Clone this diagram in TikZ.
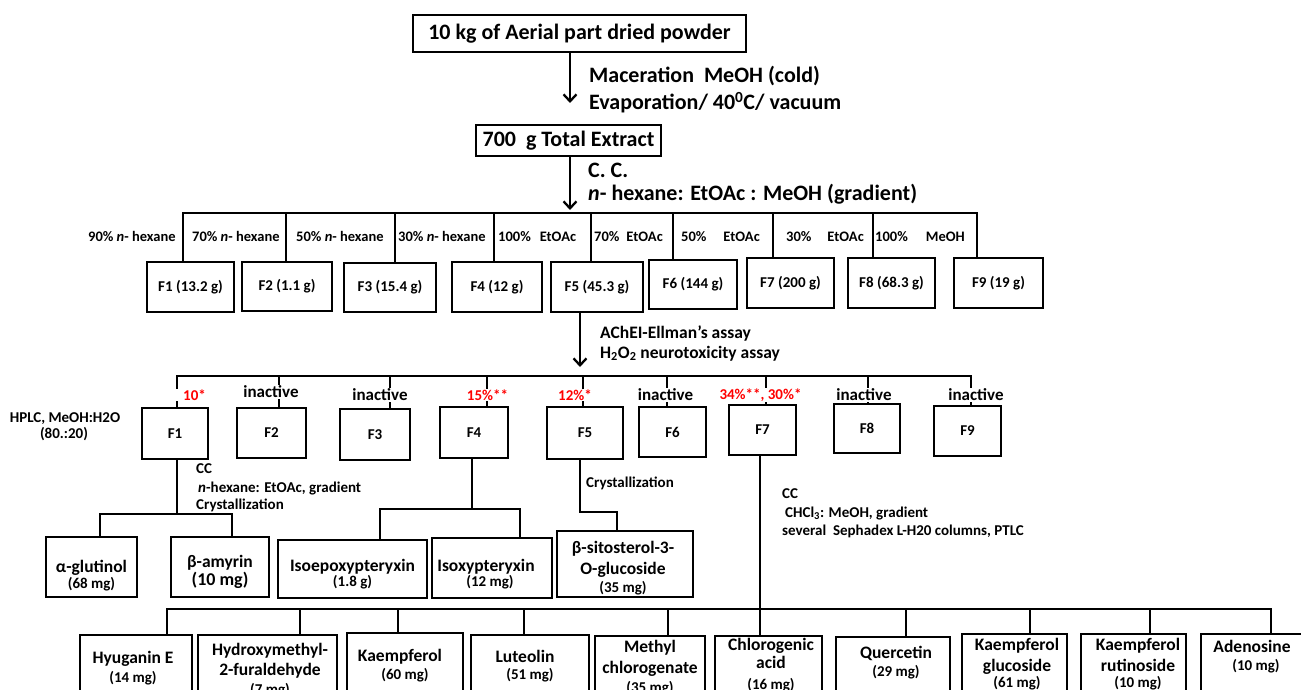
\documentclass[tikz,border=0pt]{standalone}
\usepackage{fontspec}
\setmainfont{Carlito}
\usetikzlibrary{arrows.meta}
\newcommand{\fsz}[1]{\fontsize{#1}{#1}\selectfont}
\newcommand{\ltxt}[4]{\node[anchor=base west,inner sep=0pt,font=\bfseries\fsz{#3}] at (#1,#2) {#4};}
\newcommand{\ctxt}[4]{\node[anchor=base,inner sep=0pt,font=\bfseries\fsz{#3}] at (#1,#2) {#4};}
\begin{document}
\begin{tikzpicture}[x=1pt,y=-1pt,
 ln/.style={line width=2.3pt,line cap=rect,line join=miter},
 bx/.style={draw,line width=2.3pt,inner sep=0pt,align=center},
 arr/.style={line width=2.3pt,-{Straight Barb[length=7pt,width=13pt,line width=2.3pt]}},
 big/.style={font=\bfseries\fsz{22}},
 sml/.style={font=\bfseries\fsz{15}},
 rl/.style={text=red,fill=white,inner sep=1pt,font=\bfseries\fsz{15}},
 il/.style={fill=white,inner sep=1pt,font=\bfseries\fsz{17}},
]
\useasboundingbox (0,0) rectangle (1301,690);
\fill[white] (0,0) rectangle (1301,690);
\clip (0,0) rectangle (1301,690);

% top boxes
\node[bx,big,minimum width=333pt,minimum height=37pt] (B0) at (579.5,33.5) {10 kg of Aerial part dried powder};
\node[bx,big,minimum width=185pt,minimum height=31pt] (B1) at (568.5,140.5) {700\ \ g Total Extract};

\ltxt{589}{83}{22}{Maceration\ \ MeOH (cold)}
\ltxt{589}{110}{22}{Evaporation/ 40\textsuperscript{0}C/ vacuum}
\ltxt{588}{178}{22}{C. C.}
\ltxt{588}{200}{22}{\textit{n}- hexane: EtOAc : MeOH (gradient)}

\coordinate (a1) at (570,103);
\draw[arr] (a1 |- B0.south) -- (a1);
\coordinate (a2) at (570,210);
\draw[arr] (a2 |- B1.south) -- (a2);

% fraction row
\node[bx,sml,minimum width=87pt,minimum height=50pt] (F1) at (190.5,287) {F1 (13.2 g)};
\node[bx,sml,minimum width=90pt,minimum height=49pt] (F2) at (287,286.5) {F2 (1.1 g)};
\node[bx,sml,minimum width=92pt,minimum height=49pt] (F3) at (390,287.5) {F3 (15.4 g)};
\node[bx,sml,minimum width=90pt,minimum height=50pt] (F4) at (497,287) {F4 (12 g)};
\node[bx,sml,minimum width=92pt,minimum height=50pt] (F5) at (597,287) {F5 (45.3 g)};
\node[bx,sml,minimum width=88pt,minimum height=49pt] (F6) at (693,284.5) {F6 (144 g)};
\node[bx,sml,minimum width=87pt,minimum height=50pt] (F7) at (790.5,283) {F7 (200 g)};
\node[bx,sml,minimum width=87pt,minimum height=50pt] (F8) at (891.5,283) {F8 (68.3 g)};
\node[bx,sml,minimum width=89pt,minimum height=50pt] (F9) at (998.5,283) {F9 (19 g)};

\draw[ln] (183,213) -- (977,213);
\foreach \x/\n in {183/F1,286/F2,395/F3,494/F4,591/F5,673/F6,773/F7,873/F8,977/F9}
  \draw[ln] (\x,213) coordinate (tmp) -- (tmp |- \n.north);

\ltxt{88}{241}{14.5}{90\% \textit{n}- hexane}
\ltxt{192}{241}{14.5}{70\% \textit{n}- hexane}
\ltxt{296}{241}{14.5}{50\% \textit{n}- hexane}
\ltxt{398}{241}{14.5}{30\% \textit{n}- hexane}
\ltxt{498}{241}{14.5}{100\%\hspace{9pt}EtOAc}
\ltxt{594}{241}{14.5}{70\%\hspace{7pt}EtOAc}
\ltxt{681}{241}{14.5}{50\%\hspace{17pt}EtOAc}
\ltxt{786}{241}{14.5}{30\%\hspace{16pt}EtOAc}
\ltxt{875}{241}{14.5}{100\%\hspace{18pt}MeOH}

% bioassay arrow
\coordinate (a3) at (580,367);
\draw[arr] (a3 |- F5.south) -- (a3);
\ltxt{600}{338}{17.5}{AChEI-Ellman’s assay}
\ltxt{600}{358}{17.5}{H\textsubscript{2}O\textsubscript{2} neurotoxicity assay}

% second row
\node[bx,sml,minimum width=66pt,minimum height=51pt] (G1) at (175,433.5) {F1};
\node[bx,sml,minimum width=69pt,minimum height=50pt] (G2) at (271.5,433) {F2};
\node[bx,sml,minimum width=70pt,minimum height=51pt] (G3) at (375,434.5) {F3};
\node[bx,sml,minimum width=68pt,minimum height=51pt] (G4) at (474,432.5) {F4};
\node[bx,sml,minimum width=76pt,minimum height=52pt] (G5) at (585,433) {F5};
\node[bx,sml,minimum width=67pt,minimum height=50pt] (G6) at (672.5,432) {F6};
\node[bx,sml,minimum width=67pt,minimum height=50pt] (G7) at (762.5,430) {F7};
\node[bx,sml,minimum width=66pt,minimum height=49pt] (G8) at (867,428.5) {F8};
\node[bx,sml,minimum width=67pt,minimum height=50pt] (G9) at (967.5,431) {F9};

\draw[ln] (177,376) -- (971,376);
\foreach \x/\n in {177/G1,279/G2,390/G3,487/G4,583/G5,667/G6,766/G7,868/G8,971/G9}
  \draw[ln] (\x,376) coordinate (tmp) -- (tmp |- \n.north);

\node[rl,minimum width=42pt] (L1) at (194.5,395) {10*};
\node[il] (L2) at (271,392) {inactive};
\node[il] (L3) at (380,395) {inactive};
\node[rl] (L4) at (487.5,395) {15\%**};
\node[rl] (L5) at (575,395) {12\%*};
\node[il] (L6) at (665.5,395) {inactive};
\node[rl] (L7) at (760.5,395) {34\%**, 30\%*};
\node[il] (L8) at (864,395) {inactive};
\node[il] (L9) at (976,395) {inactive};

\ctxt{65}{422}{15}{HPLC, MeOH:H2O}
\ctxt{64}{438}{15}{(80.:20)}

% F1 subtree
\node[bx,minimum width=91pt,minimum height=60pt] (C1) at (91.5,567) {};
\node[bx,minimum width=98pt,minimum height=60pt] (C2) at (220,567) {};
\coordinate (j1) at (177,514);
\coordinate (j1L) at (100,514);
\coordinate (j1R) at (232,514);
\draw[ln] (j1 |- G1.south) -- (j1);
\draw[ln] (j1L |- C1.north) -- (j1L) -- (j1R) -- (j1R |- C2.north);
\ltxt{196}{473}{15}{CC}
\ltxt{198}{492}{15}{\textit{n}-hexane: EtOAc, gradient}
\ltxt{196}{509}{15}{Crystallization}
\ctxt{91.5}{572}{17.5}{α-glutinol}
\ctxt{91.5}{588}{15}{(68 mg)}
\ctxt{220}{567}{17.5}{β-amyrin}
\ctxt{220}{585}{18}{(10 mg)}

% F4 subtree
\node[bx,minimum width=149pt,minimum height=58pt] (C3) at (352.5,569) {};
\node[bx,minimum width=120pt,minimum height=60pt] (C4) at (492,568) {};
\coordinate (j4) at (472,509);
\coordinate (j4L) at (380,509);
\coordinate (j4R) at (520,509);
\draw[ln] (j4 |- G4.south) -- (j4);
\draw[ln] (j4L |- C3.north) -- (j4L) -- (j4R) -- (j4R |- C4.north);
\ctxt{352.5}{571}{17.5}{Isoepoxypteryxin}
\ctxt{352.5}{586}{15}{(1.8 g)}
\ctxt{486}{571}{17.5}{Isoxypteryxin}
\ctxt{490}{586}{15}{(12 mg)}

% F5 subtree
\node[bx,minimum width=136pt,minimum height=66pt] (C5) at (625,564) {};
\coordinate (j5a) at (580,512);
\coordinate (j5b) at (617,512);
\draw[ln] (j5a |- G5.south) -- (j5a) -- (j5b) -- (j5b |- C5.north);
\ltxt{586}{487}{15}{Crystallization}
\ctxt{623}{553}{17.5}{β-sitosterol-3-}
\ctxt{623}{574}{17.5}{O-glucoside}
\ctxt{623}{592}{15}{(35 mg)}

% F7 subtree
\ltxt{782}{498}{15}{CC}
\ltxt{785}{517}{15}{CHCl\textsubscript{3}: MeOH, gradient}
\ltxt{782}{535}{15}{several\ \ Sephadex L-H20 columns, PTLC}

\node[bx,anchor=north,minimum width=112pt,minimum height=100pt] (D1) at (136,634) {};
\node[bx,anchor=north,minimum width=139pt,minimum height=100pt] (D2) at (267.5,634) {};
\node[bx,anchor=north,minimum width=116pt,minimum height=100pt] (D3) at (405,632) {};
\node[bx,anchor=north,minimum width=118pt,minimum height=100pt] (D4) at (530,634) {};
\node[bx,anchor=north,minimum width=110pt,minimum height=100pt] (D5) at (650,635) {};
\node[bx,anchor=north,minimum width=107pt,minimum height=100pt] (D6) at (768.5,635) {};
\node[bx,anchor=north,minimum width=114pt,minimum height=100pt] (D7) at (893,636) {};
\node[bx,anchor=north,minimum width=105pt,minimum height=100pt] (D8) at (1014.5,633) {};
\node[bx,anchor=north,minimum width=105pt,minimum height=100pt] (D9) at (1133.5,633) {};
\node[bx,anchor=north,minimum width=119pt,minimum height=100pt] (D10) at (1260.5,633) {};

\coordinate (j7) at (760,609);
\draw[ln] (j7 |- G7.south) -- (j7 |- D6.north);
\draw[ln] (167,609) -- (1271,609);
\foreach \x/\n in {167/D1,300/D2,398/D3,524/D4,668/D5,906/D7,1030/D8,1150/D9,1271/D10}
  \draw[ln] (\x,609) coordinate (tmp) -- (tmp |- \n.north);

\ctxt{133}{663}{17.5}{Hyuganin E}
\ctxt{133}{682}{15}{(14 mg)}
\ctxt{270}{655}{17.5}{Hydroxymethyl-}
\ctxt{270}{675}{17.5}{2-furaldehyde}
\ctxt{270}{694}{15}{(7 mg)}
\ctxt{400}{661}{17.5}{Kaempferol}
\ctxt{405}{679}{15}{(60 mg)}
\ctxt{525}{662}{17.5}{Luteolin}
\ctxt{530}{679}{15}{(51 mg)}
\ctxt{650}{652}{17.5}{Methyl}
\ctxt{650}{673}{17.5}{chlorogenate}
\ctxt{650}{692}{15}{(35 mg)}
\ctxt{771}{650}{17.5}{Chlorogenic}
\ctxt{771}{668}{17.5}{acid}
\ctxt{771}{689}{15}{(16 mg)}
\ctxt{896}{658}{17.5}{Quercetin}
\ctxt{896}{676}{15}{(29 mg)}
\ctxt{1017}{650}{17.5}{Kaempferol}
\ctxt{1017}{671}{17.5}{glucoside}
\ctxt{1017}{687}{15}{(61 mg)}
\ctxt{1138}{650}{17.5}{Kaempferol}
\ctxt{1138}{671}{17.5}{rutinoside}
\ctxt{1138}{687}{15}{(10 mg)}
\ctxt{1252}{652}{17.5}{Adenosine}
\ctxt{1256}{670}{15}{(10 mg)}
\end{tikzpicture}
\end{document}
